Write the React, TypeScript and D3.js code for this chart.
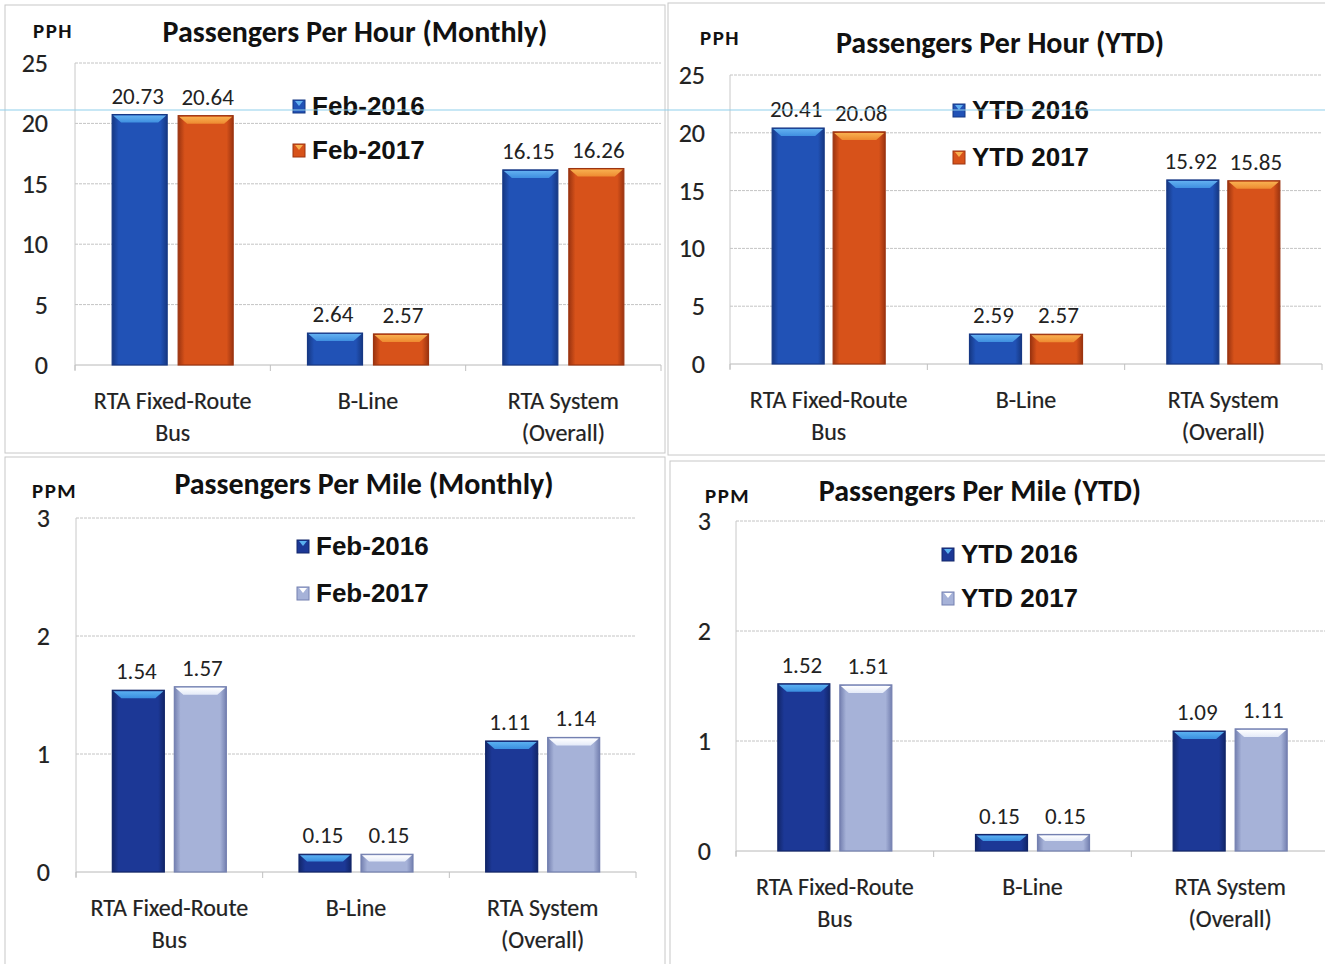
import React from "react";
import * as d3 from "d3";

const categories: string[][] = [["RTA Fixed-Route", "Bus"], ["B-Line"], ["RTA System", "(Overall)"]];

const pphMonthly2016 = [20.73, 2.64, 16.15];
const pphMonthly2017 = [20.64, 2.57, 16.26];
const pphYtd2016 = [20.41, 2.59, 15.92];
const pphYtd2017 = [20.08, 2.57, 15.85];
const ppmMonthly2016 = [1.54, 0.15, 1.11];
const ppmMonthly2017 = [1.57, 0.15, 1.14];
const ppmYtd2016 = [1.52, 0.15, 1.09];
const ppmYtd2017 = [1.51, 0.15, 1.11];

const pphTicks = [0, 5, 10, 15, 20, 25];
const ppmTicks = [0, 1, 2, 3];

const monthlyLegend = ["Feb-2016", "Feb-2017"];
const ytdLegend = ["YTD 2016", "YTD 2017"];

type Palette = { main: string; edge: string; top: string; topLight: string };
const BLUE: Palette = { main: "#2152b6", edge: "#163884", top: "#3f8fe0", topLight: "#62b0f0" };
const ORANGE: Palette = { main: "#d7521a", edge: "#9c3410", top: "#ee8a30", topLight: "#f8b050" };
const NAVY: Palette = { main: "#1c3896", edge: "#12266a", top: "#3a8ee0", topLight: "#5ab0f0" };
const LAVENDER: Palette = { main: "#a6b2d8", edge: "#7480b0", top: "#e4eaf8", topLight: "#ffffff" };

type PanelCfg = {
  id: string;
  title: string;
  unit: string;
  a: number[];
  b: number[];
  legend: string[];
  colors: [Palette, Palette];
  ticks: number[];
  max: number;
  x0: number; x1: number; y0: number; y1: number;
  barW: number; gap: number;
  tickRight: number;
  titleX: number; titleY: number;
  unitX: number; unitY: number;
  legX: number; legY: number; legStep: number;
  frame: [number, number, number, number];
};

const panels: PanelCfg[] = [
  {
    id: "p1", title: "Passengers Per Hour (Monthly)", unit: "PPH",
    a: pphMonthly2016, b: pphMonthly2017, legend: monthlyLegend, colors: [BLUE, ORANGE],
    ticks: pphTicks, max: 25,
    x0: 75, x1: 661, y0: 365, y1: 63, barW: 55, gap: 11, tickRight: 48,
    titleX: 355, titleY: 42, unitX: 33, unitY: 38,
    legX: 293, legY: 106, legStep: 44, frame: [5, 5, 660, 448],
  },
  {
    id: "p2", title: "Passengers Per Hour (YTD)", unit: "PPH",
    a: pphYtd2016, b: pphYtd2017, legend: ytdLegend, colors: [BLUE, ORANGE],
    ticks: pphTicks, max: 25,
    x0: 730, x1: 1322, y0: 364, y1: 75, barW: 52, gap: 9, tickRight: 705,
    titleX: 1000, titleY: 53, unitX: 700, unitY: 45,
    legX: 953, legY: 110, legStep: 47, frame: [668, 3, 660, 452],
  },
  {
    id: "p3", title: "Passengers Per Mile (Monthly)", unit: "PPM",
    a: ppmMonthly2016, b: ppmMonthly2017, legend: monthlyLegend, colors: [NAVY, LAVENDER],
    ticks: ppmTicks, max: 3,
    x0: 76, x1: 636, y0: 872, y1: 518, barW: 52, gap: 10, tickRight: 50,
    titleX: 364, titleY: 494, unitX: 32, unitY: 498,
    legX: 297, legY: 546, legStep: 47, frame: [5, 457, 660, 510],
  },
  {
    id: "p4", title: "Passengers Per Mile (YTD)", unit: "PPM",
    a: ppmYtd2016, b: ppmYtd2017, legend: ytdLegend, colors: [NAVY, LAVENDER],
    ticks: ppmTicks, max: 3,
    x0: 736, x1: 1329, y0: 851, y1: 521, barW: 52, gap: 10, tickRight: 711,
    titleX: 980, titleY: 501, unitX: 705, unitY: 503,
    legX: 942, legY: 554, legStep: 44, frame: [670, 461, 660, 506],
  },
];

const LABEL_FONT = "Carlito, Lato, 'Open Sans', sans-serif";
const LEGEND_FONT = "'Liberation Sans', Arial, sans-serif";

function Bar({ x, y, w, h, pal, gid }: { x: number; y: number; w: number; h: number; pal: Palette; gid: string }) {
  const bev = Math.min(8, h / 2.5);
  return (
    <g>
      <rect x={x} y={y} width={w} height={h} fill={`url(#${gid})`} stroke={pal.edge} strokeWidth={1.2} />
      <polygon
        points={`${x + 1},${y + 1} ${x + w - 1},${y + 1} ${x + w - 1 - bev},${y + bev} ${x + 1 + bev},${y + bev}`}
        fill={`url(#${gid}t)`}
      />
    </g>
  );
}

function Panel({ p }: { p: PanelCfg }) {
  const x = d3.scaleBand<number>().domain(categories.map((_, i) => i)).range([p.x0, p.x1]);
  const y = d3.scaleLinear().domain([0, p.max]).range([p.y0, p.y1]);
  const step = x.bandwidth();
  const series = [p.a, p.b];
  return (
    <g>
      <defs>
        {p.colors.map((c, k) => (
          <React.Fragment key={k}>
            <linearGradient id={`${p.id}g${k}`} x1="0" x2="1" y1="0" y2="0">
              <stop offset="0" stopColor={c.edge} />
              <stop offset="0.12" stopColor={c.main} />
              <stop offset="0.88" stopColor={c.main} />
              <stop offset="1" stopColor={c.edge} />
            </linearGradient>
            <linearGradient id={`${p.id}g${k}t`} x1="0" x2="0" y1="0" y2="1">
              <stop offset="0" stopColor={c.topLight} />
              <stop offset="1" stopColor={c.top} />
            </linearGradient>
          </React.Fragment>
        ))}
      </defs>
      <rect x={p.frame[0]} y={p.frame[1]} width={p.frame[2]} height={p.frame[3]} fill="none" stroke="#c8c8c8" strokeWidth={1} />
      {p.ticks.map((t) => (
        <line key={t} x1={p.x0} x2={p.x1} y1={y(t)} y2={y(t)} stroke={t === 0 ? "#b8b8b8" : "#c4c4c4"} strokeWidth={1} strokeDasharray={t === 0 ? undefined : "3,1"} />
      ))}
      <line x1={p.x0} x2={p.x0} y1={y(p.max)} y2={p.y0 + 5} stroke="#c8c8c8" />
      {[0, 1, 2, 3].map((i) => (
        <line key={i} x1={p.x0 + i * step} x2={p.x0 + i * step} y1={p.y0} y2={p.y0 + 6} stroke="#c0c0c0" />
      ))}
      {p.ticks.map((t) => (
        <text key={t} x={p.tickRight} y={y(t) + 9} textAnchor="end" fontFamily={LABEL_FONT} fontSize={26} fill="#222" stroke="#222" strokeWidth={0.2}>
          {t}
        </text>
      ))}
      {categories.map((_, i) => {
        const cx = (x(i) as number) + step / 2;
        return series.map((s, k) => {
          const bx = k === 0 ? cx - p.gap / 2 - p.barW : cx + p.gap / 2;
          const top = y(s[i]);
          const shift = k === 0 ? -2 : 2;
          return (
            <g key={`${i}-${k}`}>
              <Bar x={bx} y={top} w={p.barW} h={p.y0 - top} pal={p.colors[k]} gid={`${p.id}g${k}`} />
              <text x={bx + p.barW / 2 + shift} y={top - 11} textAnchor="middle" fontFamily={LABEL_FONT} fontSize={23} fill="#222">
                {s[i].toFixed(2)}
              </text>
            </g>
          );
        });
      })}
      {categories.map((lines, i) => {
        const cx = (x(i) as number) + step / 2;
        return lines.map((l, j) => (
          <text key={`${i}-${j}`} x={cx} y={p.y0 + 44 + j * 32} textAnchor="middle" fontFamily={LABEL_FONT} fontSize={24} fill="#222" stroke="#222" strokeWidth={0.2}>
            {l}
          </text>
        ));
      })}
      <text x={p.titleX} y={p.titleY} textAnchor="middle" fontFamily={LABEL_FONT} fontWeight="bold" fontSize={30} fill="#111">
        {p.title}
      </text>
      <text x={p.unitX} y={p.unitY} fontFamily={LABEL_FONT} fontWeight="bold" fontSize={21} letterSpacing={1.5} fill="#111">
        {p.unit}
      </text>
      {p.legend.map((l, k) => {
        const ly = p.legY + k * p.legStep;
        const c = p.colors[k];
        return (
          <g key={l}>
            <rect x={p.legX} y={ly - 6} width={12} height={13} fill={c.main} stroke={c.edge} strokeWidth={1} />
            <polygon points={`${p.legX + 2},${ly - 5} ${p.legX + 10},${ly - 5} ${p.legX + 6},${ly}`} fill={c.topLight} />
            <text x={p.legX + 19} y={ly + 9} fontFamily={LEGEND_FONT} fontWeight="bold" fontSize={26} fill="#111">
              {l}
            </text>
          </g>
        );
      })}
    </g>
  );
}

export default function App() {
  return (
    <svg width={1325} height={964} style={{ position: "absolute", left: 0, top: 0, background: "#fff" }}>
      <rect x={0} y={0} width={1325} height={964} fill="#fff" />
      {panels.map((p) => (
        <Panel key={p.id} p={p} />
      ))}
      <line x1={0} x2={1325} y1={110} y2={110} stroke="#8fd0ec" strokeWidth={1.2} />
    </svg>
  );
}
